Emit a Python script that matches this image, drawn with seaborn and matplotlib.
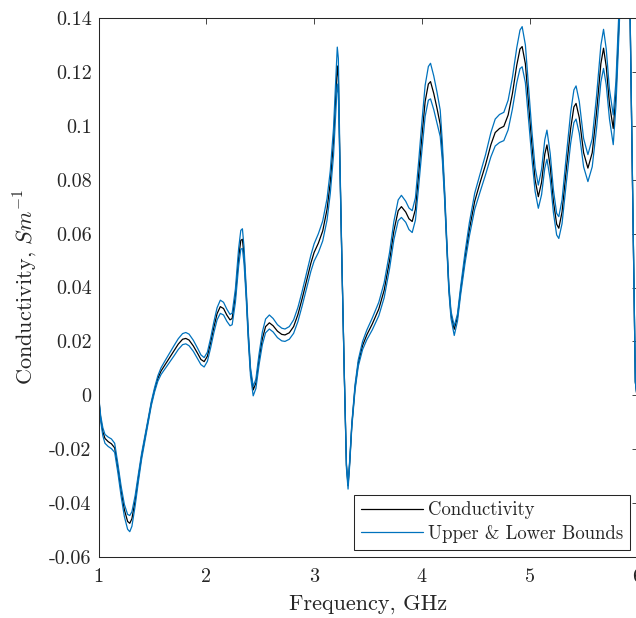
#!/usr/bin/env python3

import pandas as pd
import seaborn as sns
import matplotlib.pyplot as plt

# Frequency grid (GHz) and values.
FREQ = [
    1.00, 1.02, 1.04, 1.06, 1.09, 1.12, 1.15, 1.18, 1.21, 1.24, 1.27, 1.29,
    1.31, 1.34, 1.37, 1.40, 1.43, 1.46, 1.49, 1.52, 1.55, 1.58, 1.62, 1.66,
    1.70, 1.74, 1.78, 1.81, 1.84, 1.88, 1.92, 1.95, 1.98, 2.01, 2.04, 2.07,
    2.10, 2.13, 2.16, 2.19, 2.22, 2.24, 2.27, 2.30, 2.32, 2.335, 2.35, 2.37,
    2.39, 2.41, 2.435, 2.46, 2.49, 2.52, 2.55, 2.585, 2.62, 2.66, 2.70, 2.73,
    2.77, 2.81, 2.85, 2.89, 2.93, 2.97, 3.00, 3.04, 3.08, 3.12, 3.15, 3.18,
    3.20, 3.215, 3.225, 3.24, 3.26, 3.28, 3.30, 3.315, 3.33, 3.35, 3.38, 3.41,
    3.45, 3.49, 3.54, 3.60, 3.65, 3.70, 3.74, 3.78, 3.81, 3.85, 3.88, 3.91,
    3.94, 3.97, 4.00, 4.03, 4.06, 4.08, 4.11, 4.14, 4.17, 4.19, 4.21, 4.23,
    4.25, 4.27, 4.30, 4.33, 4.36, 4.40, 4.44, 4.49, 4.54, 4.59, 4.64, 4.68,
    4.72, 4.76, 4.80, 4.84, 4.88, 4.91, 4.93, 4.96, 4.99, 5.02, 5.05, 5.08,
    5.11, 5.14, 5.16, 5.19, 5.22, 5.25, 5.27, 5.30, 5.34, 5.38, 5.41, 5.43,
    5.46, 5.50, 5.54, 5.58, 5.62, 5.66, 5.685, 5.71, 5.74, 5.775, 5.80, 5.83,
    5.88, 5.93, 5.955, 5.98, 6.00,
]

CONDUCTIVITY = [
    0.0000, -0.0085, -0.0135, -0.0160, -0.0172, -0.0180, -0.0195, -0.0270,
    -0.0355, -0.0425, -0.0468, -0.0475, -0.0458, -0.0390, -0.0305, -0.0225,
    -0.0160, -0.0095, -0.0030, 0.0020, 0.0062, 0.0090, 0.0115, 0.0140,
    0.0165, 0.0190, 0.0208, 0.0211, 0.0205, 0.0183, 0.0155, 0.0133,
    0.0125, 0.0145, 0.0195, 0.0252, 0.0303, 0.0329, 0.0322, 0.0298,
    0.0280, 0.0285, 0.0370, 0.0510, 0.0575, 0.0579, 0.0520, 0.0380,
    0.0220, 0.0090, 0.0020, 0.0045, 0.0135, 0.0210, 0.0255, 0.0269,
    0.0258, 0.0238, 0.0226, 0.0224, 0.0232, 0.0255, 0.0300, 0.0360,
    0.0425, 0.0490, 0.0530, 0.0565, 0.0610, 0.0690, 0.0790, 0.0940,
    0.1100, 0.1222, 0.1180, 0.0850, 0.0450, 0.0080, -0.0260, -0.0335,
    -0.0250, -0.0110, 0.0030, 0.0120, 0.0185, 0.0225, 0.0265, 0.0320,
    0.0390, 0.0500, 0.0610, 0.0685, 0.0700, 0.0680, 0.0655, 0.0645,
    0.0690, 0.0820, 0.0960, 0.1090, 0.1155, 0.1164, 0.1120, 0.1065,
    0.1005, 0.0900, 0.0750, 0.0570, 0.0400, 0.0300, 0.0245, 0.0290,
    0.0390, 0.0510, 0.0615, 0.0720, 0.0790, 0.0855, 0.0930, 0.0975,
    0.0990, 0.0998, 0.1040, 0.1120, 0.1225, 0.1285, 0.1294, 0.1230,
    0.1080, 0.0930, 0.0800, 0.0737, 0.0790, 0.0895, 0.0929, 0.0850,
    0.0720, 0.0635, 0.0620, 0.0680, 0.0840, 0.0990, 0.1070, 0.1083,
    0.1030, 0.0900, 0.0843, 0.0900, 0.1050, 0.1230, 0.1288, 0.1220,
    0.1080, 0.0990, 0.1120, 0.1400, 0.2000, 0.1450, 0.0750, 0.0050,
    -0.0020,
]

UPPER = [
    0.0003, -0.0075, -0.0120, -0.0145, -0.0155, -0.0162, -0.0178, -0.0255,
    -0.0338, -0.0405, -0.0442, -0.0446, -0.0432, -0.0372, -0.0292, -0.0215,
    -0.0152, -0.0088, -0.0023, 0.0028, 0.0072, 0.0102, 0.0130, 0.0157,
    0.0184, 0.0210, 0.0229, 0.0233, 0.0227, 0.0204, 0.0174, 0.0150,
    0.0140, 0.0160, 0.0212, 0.0272, 0.0325, 0.0353, 0.0345, 0.0320,
    0.0300, 0.0305, 0.0395, 0.0545, 0.0612, 0.0618, 0.0550, 0.0400,
    0.0235, 0.0103, 0.0033, 0.0060, 0.0155, 0.0235, 0.0283, 0.0298,
    0.0285, 0.0262, 0.0249, 0.0246, 0.0255, 0.0280, 0.0326, 0.0387,
    0.0453, 0.0520, 0.0562, 0.0600, 0.0647, 0.0730, 0.0833, 0.0990,
    0.1160, 0.1292, 0.1250, 0.0870, 0.0460, 0.0085, -0.0255, -0.0325,
    -0.0242, -0.0103, 0.0040, 0.0132, 0.0200, 0.0243, 0.0287, 0.0345,
    0.0418, 0.0530, 0.0645, 0.0725, 0.0742, 0.0720, 0.0695, 0.0685,
    0.0733, 0.0868, 0.1015, 0.1150, 0.1220, 0.1232, 0.1185, 0.1125,
    0.1058, 0.0935, 0.0770, 0.0585, 0.0412, 0.0312, 0.0257, 0.0302,
    0.0405, 0.0530, 0.0640, 0.0750, 0.0822, 0.0892, 0.0975, 0.1025,
    0.1042, 0.1050, 0.1095, 0.1180, 0.1290, 0.1355, 0.1368, 0.1300,
    0.1142, 0.0982, 0.0845, 0.0780, 0.0838, 0.0948, 0.0984, 0.0898,
    0.0762, 0.0675, 0.0663, 0.0725, 0.0890, 0.1050, 0.1133, 0.1148,
    0.1090, 0.0953, 0.0893, 0.0952, 0.1110, 0.1298, 0.1358, 0.1285,
    0.1135, 0.1040, 0.1165, 0.1440, 0.2050, 0.1460, 0.0755, 0.0052,
    -0.0020,
]

LOWER = [
    -0.0003, -0.0095, -0.0150, -0.0178, -0.0190, -0.0198, -0.0212, -0.0288,
    -0.0375, -0.0450, -0.0497, -0.0506, -0.0486, -0.0410, -0.0320, -0.0237,
    -0.0170, -0.0103, -0.0038, 0.0012, 0.0052, 0.0077, 0.0100, 0.0123,
    0.0146, 0.0170, 0.0188, 0.0191, 0.0184, 0.0163, 0.0135, 0.0114,
    0.0105, 0.0126, 0.0176, 0.0232, 0.0280, 0.0304, 0.0298, 0.0275,
    0.0258, 0.0262, 0.0345, 0.0480, 0.0542, 0.0545, 0.0490, 0.0360,
    0.0200, 0.0072, -0.0002, 0.0025, 0.0115, 0.0188, 0.0232, 0.0246,
    0.0235, 0.0214, 0.0202, 0.0200, 0.0208, 0.0230, 0.0274, 0.0333,
    0.0396, 0.0460, 0.0498, 0.0530, 0.0573, 0.0650, 0.0748, 0.0890,
    0.1045, 0.1155, 0.1120, 0.0830, 0.0440, 0.0075, -0.0270, -0.0348,
    -0.0260, -0.0118, 0.0020, 0.0108, 0.0170, 0.0207, 0.0243, 0.0295,
    0.0362, 0.0470, 0.0577, 0.0648, 0.0660, 0.0642, 0.0615, 0.0604,
    0.0650, 0.0775, 0.0908, 0.1035, 0.1095, 0.1100, 0.1060, 0.1010,
    0.0960, 0.0870, 0.0730, 0.0555, 0.0385, 0.0285, 0.0222, 0.0275,
    0.0375, 0.0490, 0.0590, 0.0690, 0.0755, 0.0818, 0.0885, 0.0925,
    0.0938, 0.0945, 0.0985, 0.1063, 0.1160, 0.1212, 0.1219, 0.1160,
    0.1020, 0.0880, 0.0757, 0.0694, 0.0744, 0.0843, 0.0876, 0.0802,
    0.0678, 0.0595, 0.0582, 0.0637, 0.0790, 0.0935, 0.1012, 0.1025,
    0.0972, 0.0848, 0.0793, 0.0848, 0.0990, 0.1162, 0.1213, 0.1152,
    0.1025, 0.0930, 0.1075, 0.1360, 0.1950, 0.1440, 0.0745, 0.0048,
    -0.0020,
]

X_TICKS = [1, 2, 3, 4, 5, 6]
X_TICK_LABELS = ["1", "2", "3", "4", "5", "6"]
Y_TICKS = [-0.06, -0.04, -0.02, 0, 0.02, 0.04, 0.06, 0.08, 0.1, 0.12, 0.14]
Y_TICK_LABELS = ["-0.06", "-0.04", "-0.02", "0", "0.02", "0.04", "0.06",
                 "0.08", "0.1", "0.12", "0.14"]

MATLAB_BLUE = "#0072BD"
AXIS_GREY = "#262626"


def plot_conductivity():
    frame = pd.DataFrame({
        "Frequency": FREQ,
        "Conductivity": CONDUCTIVITY,
        "Upper": UPPER,
        "Lower": LOWER,
    })

    fig = plt.figure(figsize=(6.36, 6.18), dpi=100)
    # axes run slightly past the right edge, like the cropped original
    ax = fig.add_axes([98.5 / 636, 61 / 618, 539 / 636, 539 / 618])

    sns.lineplot(data=frame, x="Frequency", y="Conductivity", ax=ax,
                 color="black", linewidth=0.9, estimator=None,
                 label="Conductivity")
    sns.lineplot(data=frame, x="Frequency", y="Upper", ax=ax,
                 color=MATLAB_BLUE, linewidth=0.9, estimator=None,
                 label="Upper & Lower Bounds")
    sns.lineplot(data=frame, x="Frequency", y="Lower", ax=ax,
                 color=MATLAB_BLUE, linewidth=0.9, estimator=None)

    ax.set_xlim(1, 6)
    ax.set_ylim(-0.06, 0.14)
    ax.set_xticks(X_TICKS)
    ax.set_xticklabels(X_TICK_LABELS)
    ax.set_yticks(Y_TICKS)
    ax.set_yticklabels(Y_TICK_LABELS)
    ax.tick_params(direction="in", top=True, right=True, length=4.3,
                   width=0.6, color=AXIS_GREY, labelcolor=AXIS_GREY,
                   labelsize=14.5)
    ax.tick_params(axis="x", pad=8)
    ax.tick_params(axis="y", pad=5)
    for spine in ax.spines.values():
        spine.set_visible(True)
        spine.set_color(AXIS_GREY)
        spine.set_linewidth(0.75)

    ax.set_xlabel("Frequency, GHz", fontsize=16, color=AXIS_GREY,
                  labelpad=6)
    ax.set_ylabel("Conductivity, $Sm^{-1}$", fontsize=16, color=AXIS_GREY,
                  labelpad=7)

    leg = ax.legend(loc="lower right", fontsize=13.5, frameon=True,
                    fancybox=False, framealpha=1, borderpad=0.35,
                    labelspacing=0.3, handlelength=3.3, handletextpad=0.3,
                    borderaxespad=0.4)
    leg.get_frame().set_edgecolor(AXIS_GREY)
    leg.get_frame().set_linewidth(0.75)

    fig.savefig("out.png", dpi=100)
    plt.close(fig)


def main():
    sns.set_theme(
        style="white",
        rc={
            "axes.spines.right": True,
            "axes.spines.top": True,
            "mathtext.fontset": "cm",
            "axes.unicode_minus": False,
            "axes.formatter.use_mathtext": True,
        },
    )
    plt.rcParams["font.family"] = ["cmr10", "DejaVu Serif"]
    plot_conductivity()


if __name__ == "__main__":
    main()
